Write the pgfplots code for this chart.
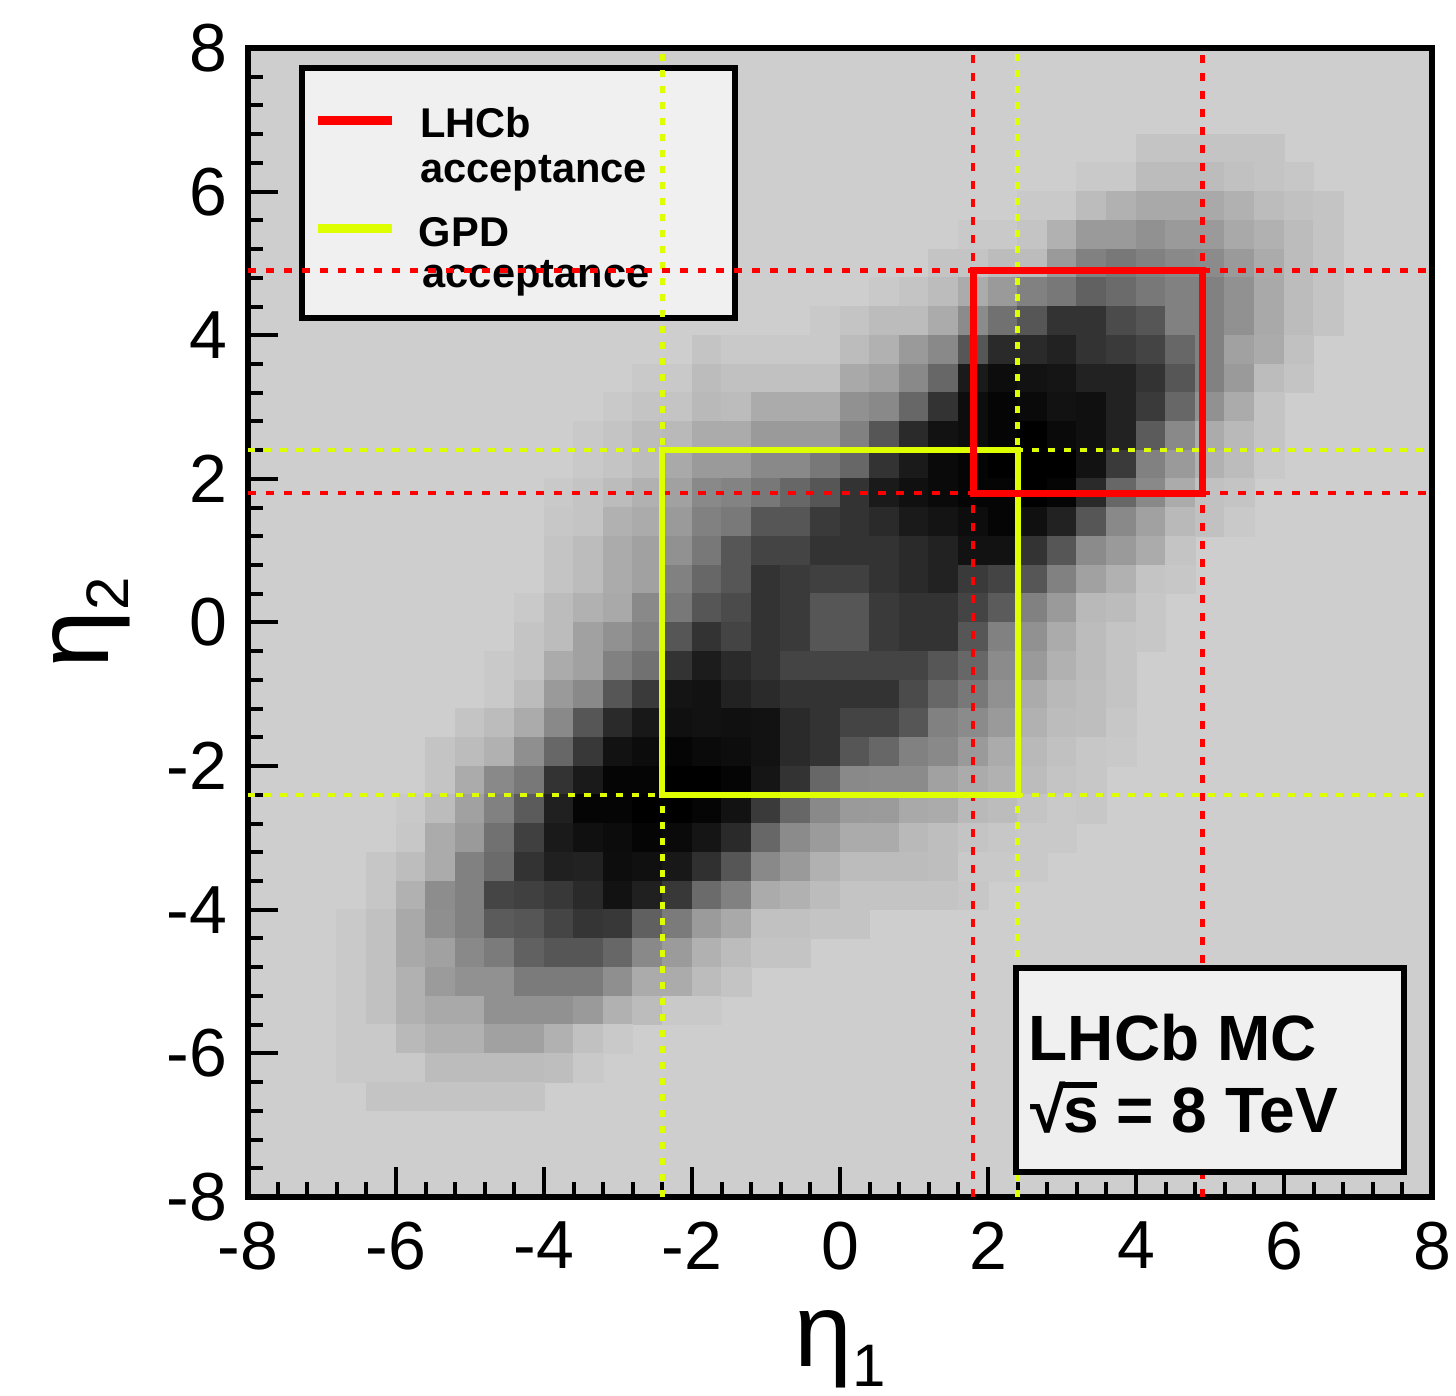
\documentclass[border=0pt]{standalone}
\usepackage{fontspec}
\setmainfont{Liberation Sans}
\usepackage{pgfplots}
\pgfplotsset{compat=1.18}
\definecolor{bgg}{RGB}{206,206,206}
\definecolor{boxg}{RGB}{240,240,240}
\definecolor{accred}{RGB}{255,0,0}
\definecolor{accyel}{RGB}{222,255,0}
\begin{document}
\begin{tikzpicture}
\useasboundingbox (0,0) rectangle (364pt,348.75pt);
\begin{axis}[
  at={(62pt,49.5pt)}, anchor=south west,
  scale only axis, width=296pt, height=287.25pt,
  xmin=-8, xmax=8, ymin=-8, ymax=8,
  xtick={-8,-6,...,8}, ytick={-8,-6,...,8},
  minor tick num=4,
  xtick pos=left, ytick pos=left,
  tick align=inside,
  major tick length=7.5pt, minor tick length=3.75pt,
  every tick/.style={black, line width=1pt},
  axis line style={line width=1.5pt},
  axis background/.style={fill=bgg},
  /pgf/number format/assume math mode=true,
  ticklabel style={font=\fontsize{17}{17}\selectfont},
  xticklabel style={anchor=north, inner sep=0pt, yshift=-6pt},
  yticklabel style={anchor=east, inner sep=0pt, xshift=-5pt},
  xlabel={\fontsize{26}{26}\selectfont η\raisebox{-5pt}{\fontsize{15}{15}\selectfont 1}},
  ylabel={\fontsize{26}{26}\selectfont η\raisebox{-5pt}{\fontsize{15}{15}\selectfont 2}},
  xlabel style={at={(axis description cs:0.5,-0.0983)}, anchor=north, inner sep=0pt},
  ylabel style={at={(axis description cs:-0.1655,0.5)}, anchor=north, inner sep=0pt},
  colormap={grays}{rgb255(0cm)=(0,0,0); rgb255(1cm)=(255,255,255)},
  point meta min=0, point meta max=255,
  clip marker paths=true,
]
% 2D histogram, bins 0.4 x 0.4, [gray level 0=black .. 206=empty]
\addplot[scatter, only marks, mark=square*, scatter src=explicit, mark size=3.7pt,
  scatter/use mapped color={draw=mapped color, fill=mapped color},
  mark options={yscale=0.9706, line width=0.2pt}] coordinates {
(4.2,6.6)[195] (4.6,6.6)[195] (5.0,6.6)[195] (5.4,6.6)[195] (5.8,6.6)[195]
(3.4,6.2)[200] (3.8,6.2)[200] (4.2,6.2)[187] (4.6,6.2)[187] (5.0,6.2)[187] (5.4,6.2)[192] (5.8,6.2)[195] (6.2,6.2)[198]
(2.6,5.8)[200] (3.0,5.8)[200] (3.4,5.8)[187] (3.8,5.8)[176] (4.2,5.8)[168] (4.6,5.8)[168] (5.0,5.8)[168] (5.4,5.8)[176] (5.8,5.8)[187] (6.2,5.8)[192] (6.6,5.8)[195]
(1.8,5.4)[200] (2.2,5.4)[200] (2.6,5.4)[195] (3.0,5.4)[176] (3.4,5.4)[153] (3.8,5.4)[153] (4.2,5.4)[144] (4.6,5.4)[153] (5.0,5.4)[153] (5.4,5.4)[168] (5.8,5.4)[176] (6.2,5.4)[187] (6.6,5.4)[195]
(1.4,5.0)[195] (1.8,5.0)[195] (2.2,5.0)[187] (2.6,5.0)[187] (3.0,5.0)[153] (3.4,5.0)[128] (3.8,5.0)[119] (4.2,5.0)[128] (4.6,5.0)[136] (5.0,5.0)[138] (5.4,5.0)[153] (5.8,5.0)[170] (6.2,5.0)[187] (6.6,5.0)[195]
(0.6,4.6)[200] (1.0,4.6)[195] (1.4,4.6)[187] (1.8,4.6)[170] (2.2,4.6)[153] (2.6,4.6)[128] (3.0,4.6)[119] (3.4,4.6)[96] (3.8,4.6)[106] (4.2,4.6)[119] (4.6,4.6)[128] (5.0,4.6)[128] (5.4,4.6)[144] (5.8,4.6)[168] (6.2,4.6)[187] (6.6,4.6)[195]
(-0.2,4.2)[200] (0.2,4.2)[195] (0.6,4.2)[187] (1.0,4.2)[187] (1.4,4.2)[170] (1.8,4.2)[138] (2.2,4.2)[112] (2.6,4.2)[85] (3.0,4.2)[51] (3.4,4.2)[51] (3.8,4.2)[74] (4.2,4.2)[85] (4.6,4.2)[128] (5.0,4.2)[128] (5.4,4.2)[144] (5.8,4.2)[168] (6.2,4.2)[187] (6.6,4.2)[195]
(-1.8,3.8)[195] (-1.4,3.8)[200] (-1.0,3.8)[200] (-0.6,3.8)[200] (-0.2,3.8)[200] (0.2,3.8)[187] (0.6,3.8)[176] (1.0,3.8)[153] (1.4,3.8)[136] (1.8,3.8)[85] (2.2,3.8)[42] (2.6,3.8)[42] (3.0,3.8)[34] (3.4,3.8)[51] (3.8,3.8)[58] (4.2,3.8)[68] (4.6,3.8)[102] (5.0,3.8)[128] (5.4,3.8)[160] (5.8,3.8)[170] (6.2,3.8)[192]
(-2.6,3.4)[200] (-2.2,3.4)[200] (-1.8,3.4)[187] (-1.4,3.4)[192] (-1.0,3.4)[192] (-0.6,3.4)[192] (-0.2,3.4)[192] (0.2,3.4)[168] (0.6,3.4)[160] (1.0,3.4)[136] (1.4,3.4)[102] (1.8,3.4)[26] (2.2,3.4)[13] (2.6,3.4)[18] (3.0,3.4)[21] (3.4,3.4)[34] (3.8,3.4)[34] (4.2,3.4)[51] (4.6,3.4)[85] (5.0,3.4)[128] (5.4,3.4)[153] (5.8,3.4)[187] (6.2,3.4)[195]
(-3.0,3.0)[200] (-2.6,3.0)[195] (-2.2,3.0)[195] (-1.8,3.0)[184] (-1.4,3.0)[187] (-1.0,3.0)[170] (-0.6,3.0)[170] (-0.2,3.0)[170] (0.2,3.0)[144] (0.6,3.0)[136] (1.0,3.0)[102] (1.4,3.0)[51] (1.8,3.0)[13] (2.2,3.0)[5] (2.6,3.0)[10] (3.0,3.0)[18] (3.4,3.0)[16] (3.8,3.0)[34] (4.2,3.0)[58] (4.6,3.0)[102] (5.0,3.0)[144] (5.4,3.0)[170] (5.8,3.0)[195]
(-3.4,2.6)[200] (-3.0,2.6)[195] (-2.6,2.6)[187] (-2.2,2.6)[184] (-1.8,2.6)[170] (-1.4,2.6)[170] (-1.0,2.6)[153] (-0.6,2.6)[153] (-0.2,2.6)[153] (0.2,2.6)[128] (0.6,2.6)[85] (1.0,2.6)[42] (1.4,2.6)[18] (1.8,2.6)[13] (2.2,2.6)[5] (2.6,2.6)[0] (3.0,2.6)[10] (3.4,2.6)[16] (3.8,2.6)[34] (4.2,2.6)[90] (4.6,2.6)[136] (5.0,2.6)[170] (5.4,2.6)[184] (5.8,2.6)[195]
(-3.4,2.2)[200] (-3.0,2.2)[195] (-2.6,2.2)[187] (-2.2,2.2)[168] (-1.8,2.2)[153] (-1.4,2.2)[153] (-1.0,2.2)[136] (-0.6,2.2)[136] (-0.2,2.2)[119] (0.2,2.2)[102] (0.6,2.2)[51] (1.0,2.2)[26] (1.4,2.2)[10] (1.8,2.2)[5] (2.2,2.2)[0] (2.6,2.2)[0] (3.0,2.2)[0] (3.4,2.2)[18] (3.8,2.2)[58] (4.2,2.2)[128] (4.6,2.2)[153] (5.0,2.2)[176] (5.4,2.2)[187] (5.8,2.2)[200]
(-3.8,1.8)[200] (-3.4,1.8)[195] (-3.0,1.8)[187] (-2.6,1.8)[176] (-2.2,1.8)[160] (-1.8,1.8)[136] (-1.4,1.8)[130] (-1.0,1.8)[119] (-0.6,1.8)[102] (-0.2,1.8)[85] (0.2,1.8)[51] (0.6,1.8)[26] (1.0,1.8)[16] (1.4,1.8)[10] (1.8,1.8)[5] (2.2,1.8)[5] (2.6,1.8)[0] (3.0,1.8)[5] (3.4,1.8)[42] (3.8,1.8)[102] (4.2,1.8)[136] (4.6,1.8)[170] (5.0,1.8)[192] (5.4,1.8)[195]
(-3.8,1.4)[198] (-3.4,1.4)[195] (-3.0,1.4)[176] (-2.6,1.4)[170] (-2.2,1.4)[153] (-1.8,1.4)[128] (-1.4,1.4)[120] (-1.0,1.4)[85] (-0.6,1.4)[85] (-0.2,1.4)[58] (0.2,1.4)[51] (0.6,1.4)[42] (1.0,1.4)[26] (1.4,1.4)[20] (1.8,1.4)[13] (2.2,1.4)[5] (2.6,1.4)[16] (3.0,1.4)[34] (3.4,1.4)[85] (3.8,1.4)[136] (4.2,1.4)[160] (4.6,1.4)[184] (5.0,1.4)[192] (5.4,1.4)[200]
(-3.8,1.0)[195] (-3.4,1.0)[187] (-3.0,1.0)[170] (-2.6,1.0)[160] (-2.2,1.0)[144] (-1.8,1.0)[119] (-1.4,1.0)[85] (-1.0,1.0)[68] (-0.6,1.0)[68] (-0.2,1.0)[51] (0.2,1.0)[51] (0.6,1.0)[51] (1.0,1.0)[42] (1.4,1.0)[34] (1.8,1.0)[18] (2.2,1.0)[18] (2.6,1.0)[51] (3.0,1.0)[85] (3.4,1.0)[138] (3.8,1.0)[153] (4.2,1.0)[170] (4.6,1.0)[195]
(-3.8,0.6)[195] (-3.4,0.6)[187] (-3.0,0.6)[170] (-2.6,0.6)[160] (-2.2,0.6)[128] (-1.8,0.6)[102] (-1.4,0.6)[85] (-1.0,0.6)[51] (-0.6,0.6)[58] (-0.2,0.6)[64] (0.2,0.6)[64] (0.6,0.6)[51] (1.0,0.6)[42] (1.4,0.6)[34] (1.8,0.6)[58] (2.2,0.6)[68] (2.6,0.6)[85] (3.0,0.6)[128] (3.4,0.6)[160] (3.8,0.6)[176] (4.2,0.6)[195] (4.6,0.6)[198]
(-4.2,0.2)[200] (-3.8,0.2)[187] (-3.4,0.2)[176] (-3.0,0.2)[168] (-2.6,0.2)[136] (-2.2,0.2)[119] (-1.8,0.2)[85] (-1.4,0.2)[74] (-1.0,0.2)[51] (-0.6,0.2)[58] (-0.2,0.2)[85] (0.2,0.2)[85] (0.6,0.2)[58] (1.0,0.2)[51] (1.4,0.2)[51] (1.8,0.2)[68] (2.2,0.2)[90] (2.6,0.2)[128] (3.0,0.2)[153] (3.4,0.2)[184] (3.8,0.2)[187] (4.2,0.2)[198]
(-4.2,-0.2)[195] (-3.8,-0.2)[187] (-3.4,-0.2)[160] (-3.0,-0.2)[144] (-2.6,-0.2)[128] (-2.2,-0.2)[85] (-1.8,-0.2)[51] (-1.4,-0.2)[68] (-1.0,-0.2)[51] (-0.6,-0.2)[58] (-0.2,-0.2)[85] (0.2,-0.2)[85] (0.6,-0.2)[58] (1.0,-0.2)[51] (1.4,-0.2)[51] (1.8,-0.2)[85] (2.2,-0.2)[128] (2.6,-0.2)[144] (3.0,-0.2)[170] (3.4,-0.2)[187] (3.8,-0.2)[195] (4.2,-0.2)[198]
(-4.6,-0.6)[200] (-4.2,-0.6)[195] (-3.8,-0.6)[170] (-3.4,-0.6)[160] (-3.0,-0.6)[128] (-2.6,-0.6)[112] (-2.2,-0.6)[51] (-1.8,-0.6)[28] (-1.4,-0.6)[42] (-1.0,-0.6)[51] (-0.6,-0.6)[68] (-0.2,-0.6)[68] (0.2,-0.6)[68] (0.6,-0.6)[68] (1.0,-0.6)[68] (1.4,-0.6)[85] (1.8,-0.6)[102] (2.2,-0.6)[138] (2.6,-0.6)[153] (3.0,-0.6)[176] (3.4,-0.6)[187] (3.8,-0.6)[195]
(-4.6,-1.0)[200] (-4.2,-1.0)[187] (-3.8,-1.0)[153] (-3.4,-1.0)[136] (-3.0,-1.0)[85] (-2.6,-1.0)[58] (-2.2,-1.0)[20] (-1.8,-1.0)[18] (-1.4,-1.0)[34] (-1.0,-1.0)[42] (-0.6,-1.0)[51] (-0.2,-1.0)[51] (0.2,-1.0)[51] (0.6,-1.0)[51] (1.0,-1.0)[74] (1.4,-1.0)[102] (1.8,-1.0)[119] (2.2,-1.0)[144] (2.6,-1.0)[170] (3.0,-1.0)[184] (3.4,-1.0)[189] (3.8,-1.0)[195]
(-5.0,-1.4)[195] (-4.6,-1.4)[187] (-4.2,-1.4)[170] (-3.8,-1.4)[136] (-3.4,-1.4)[85] (-3.0,-1.4)[42] (-2.6,-1.4)[24] (-2.2,-1.4)[16] (-1.8,-1.4)[18] (-1.4,-1.4)[16] (-1.0,-1.4)[18] (-0.6,-1.4)[42] (-0.2,-1.4)[51] (0.2,-1.4)[68] (0.6,-1.4)[68] (1.0,-1.4)[85] (1.4,-1.4)[128] (1.8,-1.4)[138] (2.2,-1.4)[153] (2.6,-1.4)[176] (3.0,-1.4)[187] (3.4,-1.4)[189] (3.8,-1.4)[198]
(-5.4,-1.8)[195] (-5.0,-1.8)[187] (-4.6,-1.8)[176] (-4.2,-1.8)[142] (-3.8,-1.8)[102] (-3.4,-1.8)[56] (-3.0,-1.8)[18] (-2.6,-1.8)[12] (-2.2,-1.8)[5] (-1.8,-1.8)[10] (-1.4,-1.8)[13] (-1.0,-1.8)[18] (-0.6,-1.8)[42] (-0.2,-1.8)[51] (0.2,-1.8)[85] (0.6,-1.8)[102] (1.0,-1.8)[128] (1.4,-1.8)[136] (1.8,-1.8)[153] (2.2,-1.8)[170] (2.6,-1.8)[184] (3.0,-1.8)[192] (3.4,-1.8)[198] (3.8,-1.8)[200]
(-5.4,-2.2)[195] (-5.0,-2.2)[170] (-4.6,-2.2)[136] (-4.2,-2.2)[119] (-3.8,-2.2)[51] (-3.4,-2.2)[26] (-3.0,-2.2)[5] (-2.6,-2.2)[5] (-2.2,-2.2)[0] (-1.8,-2.2)[0] (-1.4,-2.2)[5] (-1.0,-2.2)[21] (-0.6,-2.2)[51] (-0.2,-2.2)[102] (0.2,-2.2)[136] (0.6,-2.2)[138] (1.0,-2.2)[138] (1.4,-2.2)[160] (1.8,-2.2)[170] (2.2,-2.2)[176] (2.6,-2.2)[187] (3.0,-2.2)[195] (3.4,-2.2)[198]
(-5.8,-2.6)[200] (-5.4,-2.6)[187] (-5.0,-2.6)[160] (-4.6,-2.6)[128] (-4.2,-2.6)[90] (-3.8,-2.6)[32] (-3.4,-2.6)[5] (-3.0,-2.6)[5] (-2.6,-2.6)[0] (-2.2,-2.6)[0] (-1.8,-2.6)[5] (-1.4,-2.6)[18] (-1.0,-2.6)[58] (-0.6,-2.6)[102] (-0.2,-2.6)[136] (0.2,-2.6)[153] (0.6,-2.6)[154] (1.0,-2.6)[168] (1.4,-2.6)[170] (1.8,-2.6)[184] (2.2,-2.6)[187] (2.6,-2.6)[195] (3.0,-2.6)[200] (3.4,-2.6)[198]
(-5.8,-3.0)[198] (-5.4,-3.0)[170] (-5.0,-3.0)[153] (-4.6,-3.0)[112] (-4.2,-3.0)[64] (-3.8,-3.0)[26] (-3.4,-3.0)[16] (-3.0,-3.0)[12] (-2.6,-3.0)[5] (-2.2,-3.0)[10] (-1.8,-3.0)[21] (-1.4,-3.0)[42] (-1.0,-3.0)[102] (-0.6,-3.0)[138] (-0.2,-3.0)[154] (0.2,-3.0)[170] (0.6,-3.0)[170] (1.0,-3.0)[184] (1.4,-3.0)[189] (1.8,-3.0)[195] (2.2,-3.0)[198] (2.6,-3.0)[200] (3.0,-3.0)[200]
(-6.2,-3.4)[197] (-5.8,-3.4)[188] (-5.4,-3.4)[170] (-5.0,-3.4)[128] (-4.6,-3.4)[106] (-4.2,-3.4)[51] (-3.8,-3.4)[32] (-3.4,-3.4)[34] (-3.0,-3.4)[13] (-2.6,-3.4)[16] (-2.2,-3.4)[24] (-1.8,-3.4)[48] (-1.4,-3.4)[85] (-1.0,-3.4)[136] (-0.6,-3.4)[153] (-0.2,-3.4)[176] (0.2,-3.4)[187] (0.6,-3.4)[187] (1.0,-3.4)[187] (1.4,-3.4)[189] (1.8,-3.4)[200] (2.2,-3.4)[200] (2.6,-3.4)[200]
(-6.2,-3.8)[197] (-5.8,-3.8)[176] (-5.4,-3.8)[140] (-5.0,-3.8)[128] (-4.6,-3.8)[69] (-4.2,-3.8)[64] (-3.8,-3.8)[56] (-3.4,-3.8)[42] (-3.0,-3.8)[18] (-2.6,-3.8)[32] (-2.2,-3.8)[56] (-1.8,-3.8)[106] (-1.4,-3.8)[128] (-1.0,-3.8)[170] (-0.6,-3.8)[176] (-0.2,-3.8)[187] (0.2,-3.8)[195] (0.6,-3.8)[195] (1.0,-3.8)[195] (1.4,-3.8)[195] (1.8,-3.8)[198]
(-6.6,-4.2)[200] (-6.2,-4.2)[192] (-5.8,-4.2)[168] (-5.4,-4.2)[142] (-5.0,-4.2)[128] (-4.6,-4.2)[90] (-4.2,-4.2)[85] (-3.8,-4.2)[69] (-3.4,-4.2)[53] (-3.0,-4.2)[56] (-2.6,-4.2)[95] (-2.2,-4.2)[122] (-1.8,-4.2)[154] (-1.4,-4.2)[168] (-1.0,-4.2)[192] (-0.6,-4.2)[192] (-0.2,-4.2)[195] (0.2,-4.2)[195]
(-6.6,-4.6)[200] (-6.2,-4.6)[192] (-5.8,-4.6)[168] (-5.4,-4.6)[160] (-5.0,-4.6)[136] (-4.6,-4.6)[122] (-4.2,-4.6)[96] (-3.8,-4.6)[85] (-3.4,-4.6)[85] (-3.0,-4.6)[102] (-2.6,-4.6)[136] (-2.2,-4.6)[154] (-1.8,-4.6)[176] (-1.4,-4.6)[187] (-1.0,-4.6)[195] (-0.6,-4.6)[195]
(-6.6,-5.0)[200] (-6.2,-5.0)[192] (-5.8,-5.0)[176] (-5.4,-5.0)[154] (-5.0,-5.0)[144] (-4.6,-5.0)[144] (-4.2,-5.0)[122] (-3.8,-5.0)[122] (-3.4,-5.0)[122] (-3.0,-5.0)[142] (-2.6,-5.0)[170] (-2.2,-5.0)[170] (-1.8,-5.0)[187] (-1.4,-5.0)[195]
(-6.6,-5.4)[200] (-6.2,-5.4)[192] (-5.8,-5.4)[176] (-5.4,-5.4)[168] (-5.0,-5.4)[168] (-4.6,-5.4)[144] (-4.2,-5.4)[144] (-3.8,-5.4)[144] (-3.4,-5.4)[153] (-3.0,-5.4)[176] (-2.6,-5.4)[187] (-2.2,-5.4)[200] (-1.8,-5.4)[200]
(-6.6,-5.8)[200] (-6.2,-5.8)[200] (-5.8,-5.8)[184] (-5.4,-5.8)[176] (-5.0,-5.8)[176] (-4.6,-5.8)[160] (-4.2,-5.8)[160] (-3.8,-5.8)[176] (-3.4,-5.8)[192] (-3.0,-5.8)[200]
(-6.6,-6.2)[200] (-6.2,-6.2)[200] (-5.8,-6.2)[200] (-5.4,-6.2)[187] (-5.0,-6.2)[187] (-4.6,-6.2)[187] (-4.2,-6.2)[187] (-3.8,-6.2)[189] (-3.4,-6.2)[200]
(-6.2,-6.6)[195] (-5.8,-6.6)[195] (-5.4,-6.6)[195] (-5.0,-6.6)[195] (-4.6,-6.6)[195] (-4.2,-6.6)[195]
};
% legend box
\addplot[fill=boxg, draw=black, line width=1.4pt] coordinates {(-7.27,4.24) (-1.42,4.24) (-1.42,7.72) (-7.27,7.72)} -- cycle;
\addplot[accred, line width=2.2pt] coordinates {(-7.05,6.99) (-6.05,6.99)};
\addplot[accyel, line width=2.2pt] coordinates {(-7.05,5.49) (-6.05,5.49)};
\node[anchor=base west, inner sep=0pt, font=\bfseries\fontsize{10.4}{10.4}\selectfont] at (axis cs:-5.68,6.75) {LHCb};
\node[anchor=base west, inner sep=0pt, font=\bfseries\fontsize{10.4}{10.4}\selectfont] at (axis cs:-5.68,6.13) {acceptance};
\node[anchor=base west, inner sep=0pt, font=\bfseries\fontsize{10.4}{10.4}\selectfont] at (axis cs:-5.70,5.24) {GPD};
\node[anchor=base west, inner sep=0pt, font=\bfseries\fontsize{10.4}{10.4}\selectfont] at (axis cs:-5.65,4.67) {acceptance};
% dotted acceptance lines
\addplot[accyel, line width=1.1pt, dash pattern=on 1.8pt off 2.2pt] coordinates {(-2.4,-8) (-2.4,8)};
\addplot[accyel, line width=1.1pt, dash pattern=on 1.8pt off 2.2pt] coordinates {(2.4,-8) (2.4,8)};
\addplot[accyel, line width=1.1pt, dash pattern=on 1.8pt off 2.2pt] coordinates {(-8,-2.4) (8,-2.4)};
\addplot[accyel, line width=1.1pt, dash pattern=on 1.8pt off 2.2pt] coordinates {(-8,2.4) (8,2.4)};
\addplot[accred, line width=1.1pt, dash pattern=on 1.9pt off 2.6pt] coordinates {(1.8,-8) (1.8,8)};
\addplot[accred, line width=1.1pt, dash pattern=on 1.9pt off 2.6pt] coordinates {(4.9,-8) (4.9,8)};
\addplot[accred, line width=1.1pt, dash pattern=on 1.9pt off 2.6pt] coordinates {(-8,1.8) (8,1.8)};
\addplot[accred, line width=1.1pt, dash pattern=on 1.9pt off 2.6pt] coordinates {(-8,4.9) (8,4.9)};
% acceptance boxes
\addplot[accyel, line width=1.5pt] coordinates {(-2.4,-2.4) (2.4,-2.4) (2.4,2.4) (-2.4,2.4)} -- cycle;
\addplot[accred, line width=1.75pt] coordinates {(1.8,1.8) (4.9,1.8) (4.9,4.9) (1.8,4.9)} -- cycle;
% text box
\addplot[fill=boxg, draw=black, line width=1.4pt] coordinates {(2.38,-7.65) (7.62,-7.65) (7.62,-4.81) (2.38,-4.81)} -- cycle;
\node[anchor=base west, inner sep=0pt, font=\bfseries\fontsize{16}{16}\selectfont] at (axis cs:2.54,-6.10) {LHCb MC};
\node[anchor=base west, inner sep=0pt, font=\bfseries\fontsize{16}{16}\selectfont] at (axis cs:2.56,-7.10) {√\kern-0.03em\rlap{\rule[0.70em]{0.52em}{0.08em}}s = 8 TeV};
\end{axis}
\end{tikzpicture}
\end{document}
